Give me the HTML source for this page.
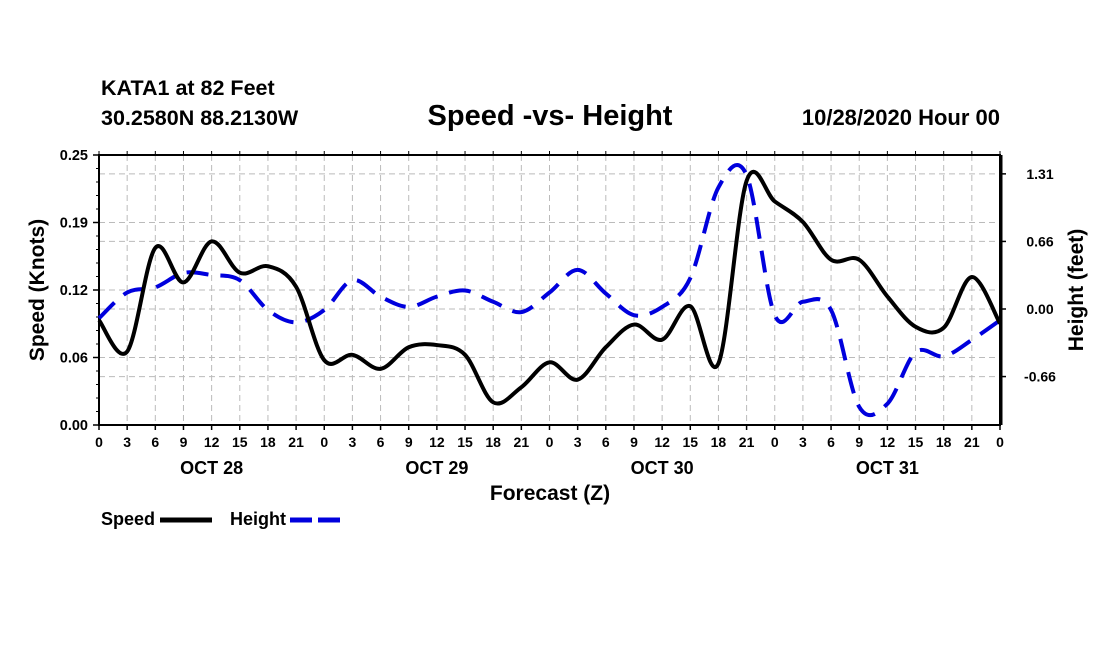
<!DOCTYPE html>
<html><head><meta charset="utf-8"><style>
body{margin:0;background:#fff;}
svg text{font-family:"Liberation Sans",Arial,sans-serif;font-weight:bold;fill:#000;}
</style></head><body>
<svg width="1100" height="650" xmlns="http://www.w3.org/2000/svg">
<text x="101" y="95" font-size="21.5">KATA1 at 82 Feet</text>
<text x="101" y="125" font-size="21.5">30.2580N 88.2130W</text>
<text x="550" y="125" font-size="29" text-anchor="middle">Speed -vs- Height</text>
<text x="1000" y="125" font-size="22" text-anchor="end">10/28/2020 Hour 00</text>
<g id="grid"></g>
<g id="axes"></g>
<path id="heightLine" fill="none" stroke="#0000dd" stroke-width="4" stroke-dasharray="22,12"/>
<path id="speedLine" fill="none" stroke="#000" stroke-width="4"/>
<text x="550" y="500" font-size="21" text-anchor="middle">Forecast (Z)</text>
<text transform="translate(44,290) rotate(-90)" font-size="21" text-anchor="middle">Speed (Knots)</text>
<text transform="translate(1083,290) rotate(-90)" font-size="21" text-anchor="middle">Height (feet)</text>
<g><text x="101" y="525" font-size="18">Speed</text><line x1="160" y1="520" x2="212" y2="520" stroke="#000" stroke-width="5"/></g>
<g><text x="230" y="525" font-size="18">Height</text><line x1="290" y1="520" x2="342" y2="520" stroke="#0000dd" stroke-width="5" stroke-dasharray="22,6"/></g>
</svg>
<script>
const hours=[0,3,6,9,12,15,18,21,0,3,6,9,12,15,18,21,0,3,6,9,12,15,18,21,0,3,6,9,12,15,18,21,0];
const dayLabels=["OCT 28","OCT 29","OCT 30","OCT 31"];
const speed=[0.097,0.068,0.164,0.132,0.170,0.141,0.147,0.128,0.060,0.065,0.052,0.072,0.074,0.065,0.021,0.035,0.058,0.042,0.072,0.093,0.079,0.110,0.057,0.226,0.207,0.188,0.153,0.153,0.119,0.091,0.090,0.137,0.094];
const height=[-0.09,0.16,0.21,0.35,0.33,0.28,-0.01,-0.13,-0.01,0.28,0.12,0.02,0.12,0.18,0.07,-0.03,0.16,0.38,0.15,-0.06,0.02,0.30,1.18,1.30,-0.06,0.07,-0.01,-0.95,-0.92,-0.42,-0.46,-0.30,-0.11];
const leftTicks=["0.00","0.06","0.12","0.19","0.25"];
const rightTicks=["-0.66","0.00","0.66","1.31"];
const rightVals=[-0.656,0,0.656,1.312];
const X0=99,X1=1000,Y0=425,Y1=155,N=hours.length;
const xs=i=>X0+(X1-X0)*i/(N-1);
const ys=v=>Y0-(Y0-Y1)*v/0.25;
const yh=v=>309-103*v;
const NS="http://www.w3.org/2000/svg";
function mk(tag,attrs,parent){const e=document.createElementNS(NS,tag);for(const k in attrs)e.setAttribute(k,attrs[k]);parent.appendChild(e);return e;}
const grid=document.getElementById('grid'),axes=document.getElementById('axes');
for(let i=1;i<N-1;i++){const g=mk('line',{x1:xs(i),x2:xs(i),y1:Y1,y2:Y0,stroke:'#bbb','stroke-dasharray':'6,4'},grid);

}
leftTicks.forEach((t,k)=>{const y=ys(k*0.0625);
if(k>0&&k<4){const g=mk('line',{x1:X0,x2:X1,y1:y,y2:y,stroke:'#bbb','stroke-dasharray':'6,4'},grid);

}
mk('line',{x1:X0-6,x2:X0,y1:y,y2:y,stroke:'#000','stroke-width':1.5},axes);
const tx=mk('text',{x:X0-11,y:y+5,'font-size':14.5,'text-anchor':'end'},axes);tx.textContent=t;

});
for(let k=0;k<=20;k++){const y=Y0-(Y0-Y1)*k/20;mk('line',{x1:X0-3,x2:X0,y1:y,y2:y,stroke:'#000'},axes);}
rightTicks.forEach((t,k)=>{const y=yh(rightVals[k]);
const g=mk('line',{x1:X0,x2:X1,y1:y,y2:y,stroke:'#bbb','stroke-dasharray':'6,4'},grid);


mk('line',{x1:X1,x2:X1+6,y1:y,y2:y,stroke:'#000','stroke-width':1.5},axes);
const tx=mk('text',{x:X1+40,y:y+5,'font-size':14,'text-anchor':'middle'},axes);tx.textContent=t;

});
hours.forEach((h,i)=>{const x=xs(i);mk('line',{x1:x,x2:x,y1:Y0,y2:Y0+5,stroke:'#000','stroke-width':1.5},axes);
mk('line',{x1:x,x2:x,y1:Y1,y2:Y1-4,stroke:'#000'},axes);
const tx=mk('text',{x:x,y:Y0+22,'font-size':14,'text-anchor':'middle'},axes);tx.textContent=h;

});
dayLabels.forEach((d,k)=>{const tx=mk('text',{x:xs(k*8+4),y:Y0+49,'font-size':18,'text-anchor':'middle'},axes);tx.textContent=d;

});
mk('rect',{x:X0,y:Y1,width:X1-X0,height:Y0-Y1,fill:'none',stroke:'#000','stroke-width':2},axes);
mk('line',{x1:X1+1,x2:X1+1,y1:Y1,y2:Y0,stroke:'#000','stroke-width':3},axes);
function smooth(vals,fy){const p=vals.map((v,i)=>[xs(i),fy(v)]);let d='M'+p[0][0]+','+p[0][1];
for(let i=0;i<p.length-1;i++){const a=p[Math.max(0,i-1)],b=p[i],c=p[i+1],e=p[Math.min(p.length-1,i+2)];
d+=' C'+(b[0]+(c[0]-a[0])/6)+','+(b[1]+(c[1]-a[1])/6)+' '+(c[0]-(e[0]-b[0])/6)+','+(c[1]-(e[1]-b[1])/6)+' '+c[0]+','+c[1];}return d;}
document.getElementById('speedLine').setAttribute('d',smooth(speed,ys));
document.getElementById('heightLine').setAttribute('d',smooth(height,yh));
</script>
</body></html>
